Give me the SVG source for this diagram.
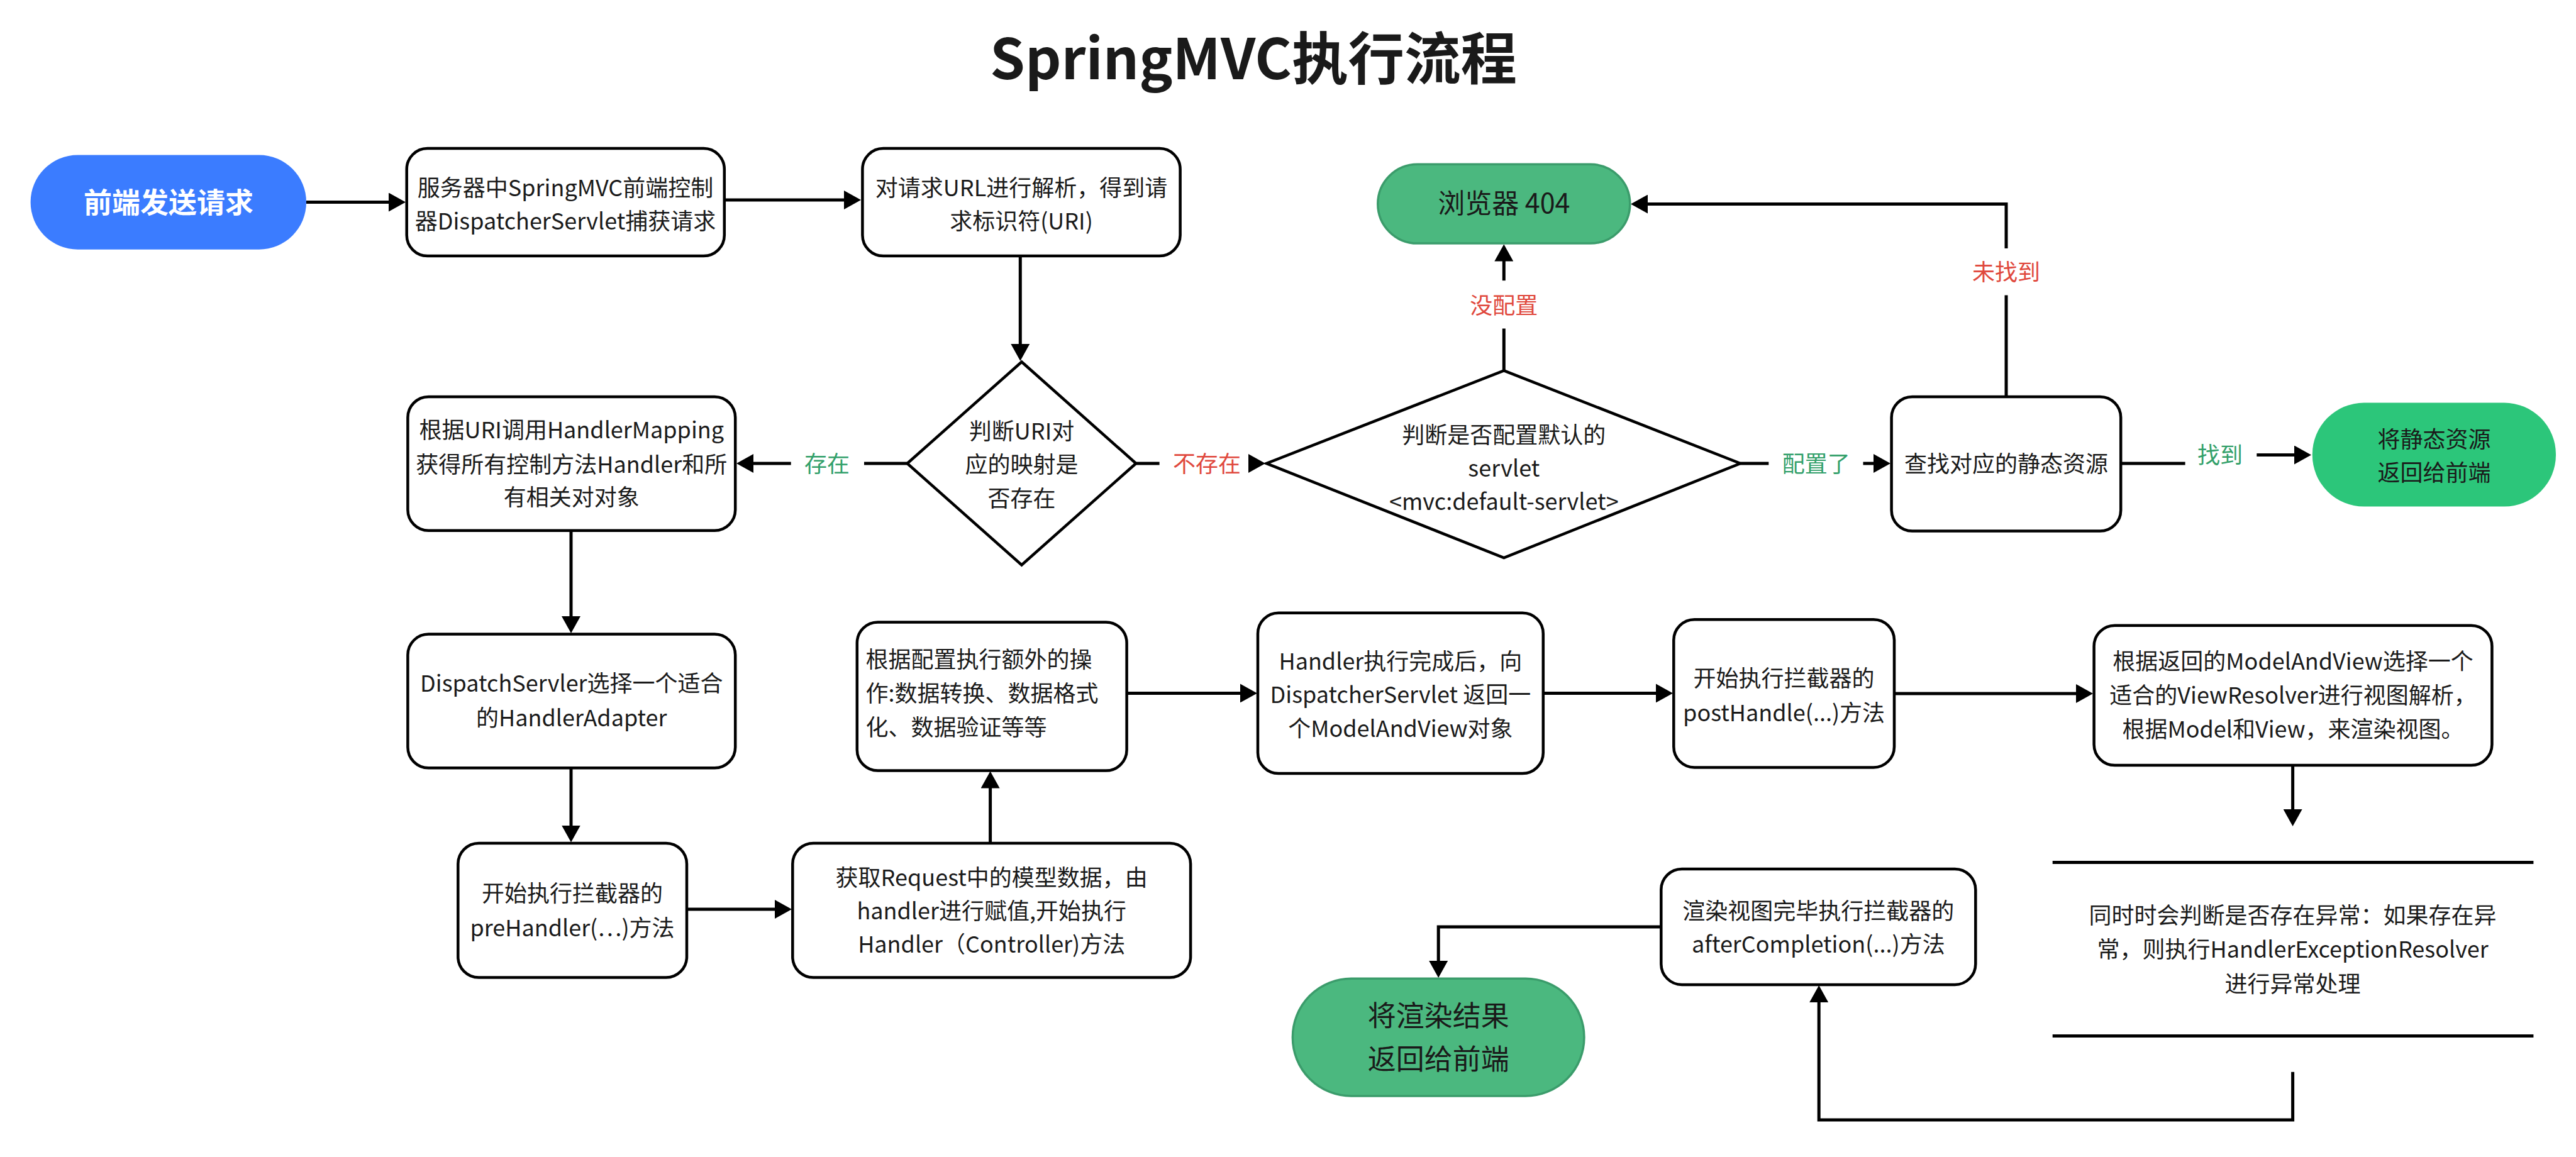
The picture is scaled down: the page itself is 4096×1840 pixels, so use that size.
<svg xmlns="http://www.w3.org/2000/svg" width="4096" height="1840" viewBox="0 0 4096 1840">
<defs>
<style>
.box{fill:#fff;stroke:#000;stroke-width:4.5}
.dia{fill:#fff;stroke:#000;stroke-width:4.5;stroke-linejoin:miter}
.t{font-family:"Noto Sans CJK SC","Noto Sans",sans-serif;font-size:36px;fill:#1a1a1a;text-anchor:middle}
.tl{text-anchor:start}
.lg{fill:#33A06A}
.lr{fill:#E0483D}
.conn{fill:none;stroke:#000;stroke-width:5}
.gpill{fill:#4BB87F;stroke:#3B9C6B;stroke-width:3.5}
</style>
<marker id="arr" markerUnits="userSpaceOnUse" markerWidth="27" markerHeight="30" viewBox="0 0 27 30" refX="17" refY="15" orient="auto">
<path d="M0,0 L27,15 L0,30 Z" fill="#000"/>
</marker>
</defs>
<rect width="4096" height="1840" fill="#fff"/>
<text x="1993" y="126" style="font-family:'Noto Sans CJK SC','Noto Sans',sans-serif;font-size:89.5px;font-weight:bold;fill:#1a1a1a;text-anchor:middle">SpringMVC执行流程</text>

<g id="connectors">
<path class="conn" d="M487,321.5 H635" marker-end="url(#arr)"/>
<path class="conn" d="M1151.8,318 H1359" marker-end="url(#arr)"/>
<path class="conn" d="M1622.3,407 V564" marker-end="url(#arr)"/>
<path class="conn" d="M1442.6,737 H1374"/>
<path class="conn" d="M1257.7,737 H1181" marker-end="url(#arr)"/>
<path class="conn" d="M1806.3,737 H1843.6"/>
<path class="conn" d="M1986,737 H2002" marker-end="url(#arr)"/>
<path class="conn" d="M2767.2,737 H2812.3"/>
<path class="conn" d="M2962.5,737 H2996" marker-end="url(#arr)"/>
<path class="conn" d="M3372.2,737 H3474.6"/>
<path class="conn" d="M3588.3,723.5 H3665" marker-end="url(#arr)"/>
<path class="conn" d="M2391.3,589.4 V522.5"/>
<path class="conn" d="M2391.3,446.2 V398.5" marker-end="url(#arr)"/>
<path class="conn" d="M3190,631 V469.6"/>
<path class="conn" d="M3190,395 V324.6 H2603" marker-end="url(#arr)"/>
<path class="conn" d="M908,843.7 V997" marker-end="url(#arr)"/>
<path class="conn" d="M908,1221.3 V1329.5" marker-end="url(#arr)"/>
<path class="conn" d="M1092,1446 H1249" marker-end="url(#arr)"/>
<path class="conn" d="M1574.6,1341 V1236.5" marker-end="url(#arr)"/>
<path class="conn" d="M1791.6,1102.4 H1989" marker-end="url(#arr)"/>
<path class="conn" d="M2453.8,1102.4 H2650" marker-end="url(#arr)"/>
<path class="conn" d="M3012,1103 H3318" marker-end="url(#arr)"/>
<path class="conn" d="M3645.6,1217 V1304" marker-end="url(#arr)"/>
<path class="conn" d="M3645.6,1704.8 V1781.1 H2892.2 V1577" marker-end="url(#arr)"/>
<path class="conn" d="M2641.3,1473.9 H2287.2 V1545" marker-end="url(#arr)"/>
<text class="t lg" x="1315" y="750.7">存在</text>
<text class="t lr" x="1919" y="750.7">不存在</text>
<text class="t lr" x="2391.3" y="498.7">没配置</text>
<text class="t lg" x="2887.8" y="750.7">配置了</text>
<text class="t lr" x="3190" y="446">未找到</text>
<text class="t lg" x="3530" y="737.3">找到</text>
</g>

<g id="n1">
<rect x="48.6" y="246.5" width="438.4" height="150.2" rx="75" fill="#3B7CFF"/>
<text class="t" x="268" y="338.5" style="font-size:45px;font-weight:bold;fill:#fff">前端发送请求</text>
</g>
<g id="n2">
<rect class="box" x="646.7" y="236.1" width="505.1" height="171" rx="33"/>
<text class="t" x="899" y="312.3">服务器中SpringMVC前端控制</text>
<text class="t" x="899" y="365.2">器DispatcherServlet捕获请求</text>
</g>
<g id="n3">
<rect class="box" x="1371.4" y="236.1" width="505.2" height="171" rx="33"/>
<text class="t" x="1624" y="312.3">对请求URL进行解析，得到请</text>
<text class="t" x="1624" y="365.2">求标识符(URI)</text>
</g>
<g id="d1">
<polygon class="dia" points="1624.5,575.5 1806.3,737 1624.5,898.4 1442.6,737"/>
<text class="t" x="1624.5" y="698.6">判断URI对</text>
<text class="t" x="1624.5" y="752.4">应的映射是</text>
<text class="t" x="1624.5" y="806.2">否存在</text>
</g>
<g id="n4">
<rect class="box" x="648.4" y="631" width="520.8" height="212.7" rx="33"/>
<text class="t" x="908.8" y="696.7">根据URI调用HandlerMapping</text>
<text class="t" x="908.8" y="751.5">获得所有控制方法Handler和所</text>
<text class="t" x="908.8" y="804.4">有相关对对象</text>
</g>
<g id="d2">
<polygon class="dia" points="2391.3,589.4 2767.2,737 2391.3,887.1 2013.8,737"/>
<text class="t" x="2391.3" y="704.7">判断是否配置默认的</text>
<text class="t" x="2391.3" y="758">servlet</text>
<text class="t" x="2391.3" y="810.5">&lt;mvc:default-servlet&gt;</text>
</g>
<g id="n404">
<rect class="gpill" x="2190.8" y="261.3" width="401" height="125.8" rx="63"/>
<text class="t" x="2391.3" y="339" style="font-size:43px">浏览器 404</text>
</g>
<g id="n15">
<rect class="box" x="3007.6" y="631" width="364.6" height="213.6" rx="33"/>
<text class="t" x="3190" y="750.7">查找对应的静态资源</text>
</g>
<g id="n16">
<rect x="3676.8" y="640.6" width="387.2" height="164.9" rx="82" fill="#2CC67A"/>
<text class="t" x="3870.4" y="711.6">将静态资源</text>
<text class="t" x="3870.4" y="764.5">返回给前端</text>
</g>
<g id="n5">
<rect class="box" x="648.4" y="1008.6" width="520.8" height="212.7" rx="33"/>
<text class="t" x="908.8" y="1099.6">DispatchServler选择一个适合</text>
<text class="t" x="908.8" y="1155.1">的HandlerAdapter</text>
</g>
<g id="n6">
<rect class="box" x="728.3" y="1341" width="363.7" height="213.6" rx="33"/>
<text class="t" x="910" y="1433.7">开始执行拦截器的</text>
<text class="t" x="910" y="1489.3">preHandler(…)方法</text>
</g>
<g id="n7">
<rect class="box" x="1260.3" y="1341" width="632.8" height="213.6" rx="33"/>
<text class="t" x="1576.7" y="1408.6">获取Request中的模型数据，由</text>
<text class="t" x="1576.7" y="1461.5">handler进行赋值,开始执行</text>
<text class="t" x="1576.7" y="1515.3">Handler（Controller)方法</text>
</g>
<g id="n8">
<rect class="box" x="1362.8" y="989.5" width="428.8" height="236.1" rx="33"/>
<text class="t tl" x="1376.6" y="1062.2">根据配置执行额外的操</text>
<text class="t tl" x="1376.6" y="1116.1">作:数据转换、数据格式</text>
<text class="t tl" x="1376.6" y="1169.9">化、数据验证等等</text>
</g>
<g id="n9">
<rect class="box" x="2000" y="974.8" width="453.8" height="255.2" rx="33"/>
<text class="t" x="2226.9" y="1064.8">Handler执行完成后，向</text>
<text class="t" x="2226.9" y="1117.8">DispatcherServlet 返回一</text>
<text class="t" x="2226.9" y="1171.6">个ModelAndView对象</text>
</g>
<g id="n10">
<rect class="box" x="2661.3" y="985.2" width="350.7" height="235.2" rx="33"/>
<text class="t" x="2836.6" y="1091.7">开始执行拦截器的</text>
<text class="t" x="2836.6" y="1147.3">postHandle(...)方法</text>
</g>
<g id="n11">
<rect class="box" x="3329.6" y="994.7" width="632.8" height="222.3" rx="33"/>
<text class="t" x="3646" y="1064.8">根据返回的ModelAndView选择一个</text>
<text class="t" x="3646" y="1118.7">适合的ViewResolver进行视图解析，</text>
<text class="t" x="3646" y="1172.5">根据Model和View，来渲染视图。</text>
</g>
<g id="n12">
<path class="conn" d="M3263.7,1371.4 H4028.4 M3263.7,1647.5 H4028.4"/>
<text class="t" x="3645.6" y="1469.3">同时时会判断是否存在异常：如果存在异</text>
<text class="t" x="3645.6" y="1523.2">常，则执行HandlerExceptionResolver</text>
<text class="t" x="3645.6" y="1577.8">进行异常处理</text>
</g>
<g id="n13">
<rect class="box" x="2641.3" y="1381.9" width="500" height="184" rx="33"/>
<text class="t" x="2891.3" y="1461.5">渲染视图完毕执行拦截器的</text>
<text class="t" x="2891.3" y="1514.5">afterCompletion(...)方法</text>
</g>
<g id="n14">
<rect class="gpill" x="2055.4" y="1556.3" width="463.5" height="186.7" rx="93"/>
<text class="t" x="2287.2" y="1631.6" style="font-size:45px">将渲染结果</text>
<text class="t" x="2287.2" y="1701.1" style="font-size:45px">返回给前端</text>
</g>
</svg>
